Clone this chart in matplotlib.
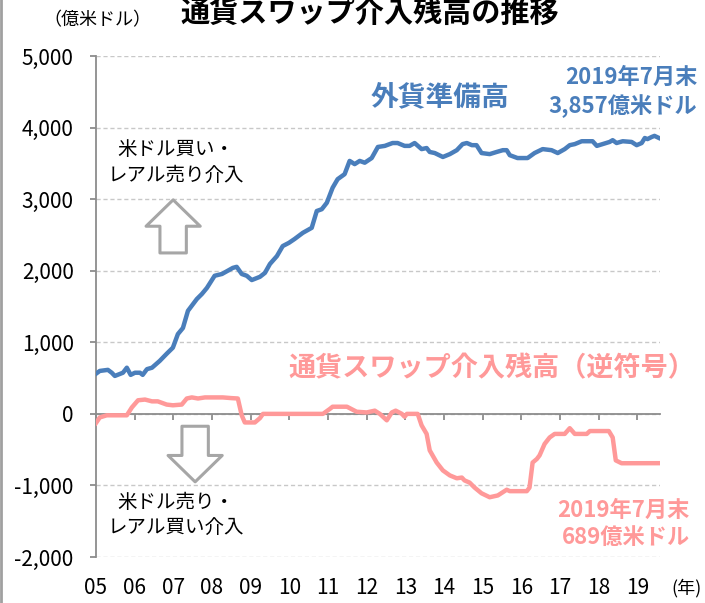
import numpy as np
import matplotlib
matplotlib.use('Agg')
import matplotlib.pyplot as plt
from matplotlib.ticker import FuncFormatter
from matplotlib.lines import Line2D
import matplotlib.transforms as mtransforms

plt.rcParams['font.family'] = ['Noto Sans CJK JP', 'DejaVu Sans']

# 外貨準備高（億米ドル）: 年（小数）と値
reserve_t = [2005.00, 2005.10, 2005.31, 2005.41, 2005.49, 2005.70, 2005.80, 2005.90,
             2006.01, 2006.14, 2006.21, 2006.32, 2006.45, 2006.65, 2006.83, 2006.99,
             2007.12, 2007.25, 2007.38, 2007.61, 2007.74, 2007.87, 2008.07, 2008.26,
             2008.54, 2008.64, 2008.77, 2008.90, 2009.03, 2009.24, 2009.37, 2009.50,
             2009.68, 2009.83, 2009.99, 2010.14, 2010.35, 2010.58, 2010.71, 2010.84,
             2010.97, 2011.12, 2011.25, 2011.43, 2011.56, 2011.69, 2011.82, 2011.95,
             2012.13, 2012.29, 2012.47, 2012.67, 2012.80, 2012.98, 2013.11, 2013.24,
             2013.42, 2013.55, 2013.63, 2013.76, 2013.97, 2014.15, 2014.33, 2014.48,
             2014.59, 2014.72, 2014.84, 2014.97, 2015.18, 2015.36, 2015.52, 2015.62,
             2015.70, 2015.90, 2016.16, 2016.34, 2016.55, 2016.78, 2016.94, 2017.12,
             2017.25, 2017.38, 2017.56, 2017.84, 2017.95, 2018.10, 2018.28, 2018.36,
             2018.46, 2018.62, 2018.85, 2018.98, 2019.11, 2019.19, 2019.26, 2019.37,
             2019.44, 2019.55]
reserve_v = [560, 600, 615, 575, 530, 575, 645, 545,
             575, 575, 545, 625, 645, 740, 840, 925,
             1115, 1200, 1440, 1605, 1675, 1760, 1930, 1955,
             2040, 2055, 1955, 1930, 1870, 1915, 1970, 2095,
             2205, 2345, 2390, 2445, 2530, 2600, 2835, 2860,
             2950, 3160, 3280, 3350, 3535, 3490, 3535, 3510,
             3575, 3730, 3745, 3785, 3785, 3745, 3745, 3785,
             3700, 3715, 3660, 3645, 3590, 3630, 3685, 3770,
             3785, 3755, 3755, 3645, 3630, 3660, 3685, 3685,
             3615, 3575, 3575, 3645, 3700, 3685, 3645, 3700,
             3755, 3770, 3810, 3810, 3745, 3770, 3800, 3825,
             3785, 3810, 3800, 3755, 3785, 3855, 3840, 3870,
             3885, 3857]

# 通貨スワップ介入残高（逆符号）
swap_t = [2005.00, 2005.10, 2005.28, 2005.80, 2005.93, 2006.09, 2006.27, 2006.45,
          2006.60, 2006.83, 2006.99, 2007.22, 2007.35, 2007.48, 2007.64, 2007.82,
          2008.00, 2008.28, 2008.51, 2008.67, 2008.77, 2008.85, 2009.11, 2009.24,
          2009.32, 2010.87, 2011.05, 2011.12, 2011.49, 2011.74, 2012.00, 2012.21,
          2012.34, 2012.52, 2012.65, 2012.75, 2012.91, 2012.98, 2013.04, 2013.32,
          2013.42, 2013.55, 2013.63, 2013.81, 2013.97, 2014.15, 2014.33, 2014.46,
          2014.53, 2014.66, 2014.79, 2014.97, 2015.18, 2015.39, 2015.62, 2015.70,
          2016.14, 2016.21, 2016.29, 2016.40, 2016.47, 2016.60, 2016.73, 2016.86,
          2017.12, 2017.25, 2017.38, 2017.69, 2017.77, 2018.26, 2018.36, 2018.44,
          2018.59, 2019.55]
swap_v = [-130, -50, -20, -20, 90, 190, 200, 175,
          175, 130, 120, 130, 215, 230, 215, 230,
          230, 230, 220, 215, -20, -120, -120, -60,
          0, 0, 70, 100, 100, 30, 20, 45,
          0, -90, 20, 45, 0, -40, 0, 0,
          -160, -280, -510, -680, -790, -860, -900, -890,
          -930, -960, -1030, -1110, -1165, -1140, -1060, -1080,
          -1080, -1030, -680, -630, -580, -420, -330, -280,
          -280, -200, -280, -280, -240, -240, -330, -650,
          -690, -689]

years = list(range(2005, 2020))
year_labels = ['05', '06', '07', '08', '09', '10', '11', '12', '13', '14',
               '15', '16', '17', '18', '19']

blue = '#4a7ebb'
pink = '#ff9999'
axis_gray = '#8c8c8c'

fig = plt.figure(figsize=(7.05, 6.03), dpi=100)
ax = fig.add_axes([0.136, 0.0763, 0.80, 0.907 - 0.0763])

ax.plot(reserve_t, reserve_v, color=blue, lw=3.2, zorder=3, solid_joinstyle='round')
ax.plot(swap_t, swap_v, color=pink, lw=3.2, zorder=3, solid_joinstyle='round')

ax.set_xlim(2005, 2019.58)
ax.set_ylim(-2000, 5000)
ax.set_yticks(np.arange(-2000, 5001, 1000))
ax.yaxis.set_major_formatter(FuncFormatter(lambda v, p: f'{int(v):,}'))
ax.grid(axis='y', color='#c8c8c8', ls=(0, (3, 2)), lw=1)
ax.set_axisbelow(True)

for s in ['top', 'right']:
    ax.spines[s].set_visible(False)
ax.spines['left'].set_color(axis_gray)
ax.spines['left'].set_linewidth(1.3)
ax.spines['bottom'].set_position(('data', 0))
ax.spines['bottom'].set_color(axis_gray)
ax.spines['bottom'].set_linewidth(1.3)

ax.set_xticks(years)
ax.tick_params(axis='x', direction='out', length=4, color=axis_gray, width=1.3,
               labelbottom=False)
ax.tick_params(axis='y', direction='out', length=4, color=axis_gray, width=1.3,
               labelsize=15, pad=12)

# 年ラベル（下端）
trans = mtransforms.blended_transform_factory(ax.transData, ax.transAxes)
for yr, lab in zip(years, year_labels):
    ax.text(yr, -0.062, lab, transform=trans, ha='center', va='center', fontsize=15)
ax.text(1.074, -0.062, '(年)', transform=ax.transAxes, ha='right', va='center',
        fontsize=13)

# 注記
ax.text(0.61, 0.918, '外貨準備高', transform=ax.transAxes, ha='center', va='center',
        fontsize=20, fontweight='bold', color=blue)
ax.text(1.066, 0.928, '2019年7月末\n3,857億米ドル', transform=ax.transAxes,
        ha='right', va='center', multialignment='right', fontsize=16,
        fontweight='bold', color=blue, linespacing=1.25)
ax.text(0.702, 0.377, '通貨スワップ介入残高（逆符号）', transform=ax.transAxes,
        ha='center', va='center', fontsize=19.5, fontweight='bold', color=pink)
ax.text(1.053, 0.066, '2019年7月末\n689億米ドル', transform=ax.transAxes,
        ha='right', va='center', multialignment='right', fontsize=16,
        fontweight='bold', color=pink, linespacing=1.25)
ax.text(0.142, 0.788, '米ドル買い・\nレアル売り介入', transform=ax.transAxes,
        ha='center', va='center', fontsize=14, linespacing=1.3)
ax.text(0.142, 0.084, '米ドル売り・\nレアル買い介入', transform=ax.transAxes,
        ha='center', va='center', fontsize=14, linespacing=1.3)

# 白抜き矢印
arrow_style = 'simple,head_length=1.9,head_width=3.9,tail_width=1.9'
ax.annotate('', xy=(0.137, 0.713), xytext=(0.137, 0.607), xycoords='axes fraction',
            arrowprops=dict(arrowstyle=arrow_style, fc='white', ec='#a6a6a6', lw=2.2,
                            mutation_scale=10, shrinkA=0, shrinkB=0))
ax.annotate('', xy=(0.176, 0.150), xytext=(0.176, 0.261), xycoords='axes fraction',
            arrowprops=dict(arrowstyle=arrow_style, fc='white', ec='#a6a6a6', lw=2.2,
                            mutation_scale=10, shrinkA=0, shrinkB=0))

# タイトルと単位
fig.text(370 / 705, 1 - 13 / 603, '通貨スワップ介入残高の推移', ha='center', va='center',
         fontsize=21, fontweight='bold')
fig.text(97 / 705, 1 - 20 / 603, '（億米ドル）', ha='center', va='center', fontsize=13)

fig.add_artist(Line2D([0.002, 0.002], [0, 1], transform=fig.transFigure,
                      color='#a0a0a0', lw=2))

fig.savefig('out.png', dpi=100)
